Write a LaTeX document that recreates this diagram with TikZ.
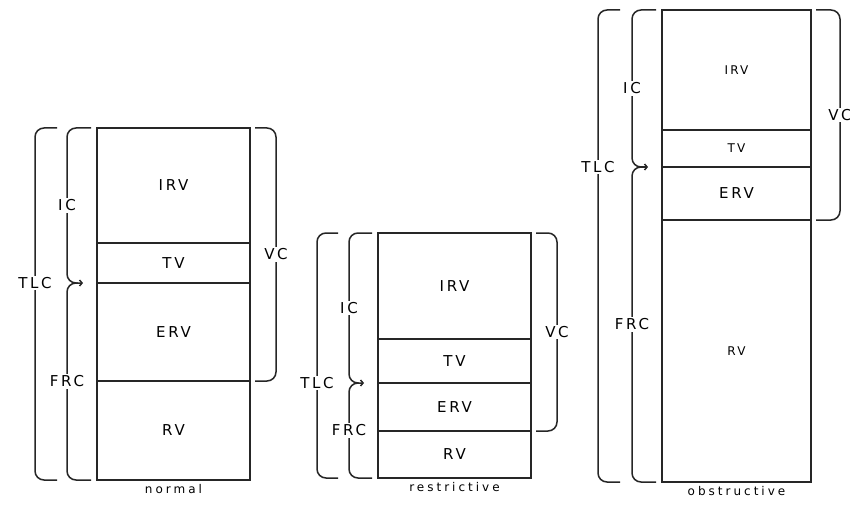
\documentclass[tikz,border=0pt]{standalone}
\usepackage{fontspec}
\usepackage{tikz}
\usetikzlibrary{arrows.meta,positioning,calc}
\newfontfamily\lettering[LetterSpace=18]{DejaVu Sans}
\newfontfamily\capfont[LetterSpace=25]{DejaVu Sans}
\tikzset{
  comp/.style={draw=black!85, line width=1.5pt, outer sep=0pt, inner sep=0pt,
    minimum width=153pt, align=center, font=\lettering\fontsize{15}{17}\selectfont},
  smallcomp/.style={comp, font=\lettering\fontsize{12}{14}\selectfont},
  brk/.style={draw=black!85, line width=1.5pt, rounded corners=9pt},
  tip/.style={brk, -{Straight Barb[length=2.5pt,width=6pt]}},
  blbl/.style={fill=white, inner sep=1.5pt, font=\lettering\fontsize{15}{17}\selectfont},
  ttl/.style={inner sep=1pt, font=\capfont\fontsize{12}{14}\selectfont}
}

\begin{document}
\begin{tikzpicture}[x=1pt, y=-1pt]
  \useasboundingbox (0,0) rectangle (850,505);

  % normal
  \node[comp, minimum height=115pt] (nIRV) at (173.5,185.5) {IRV};
  \node[comp, minimum height=40pt, below=0pt of nIRV] (nTV) {TV};
  \node[comp, minimum height=98pt, below=0pt of nTV] (nERV) {ERV};
  \node[comp, minimum height=99pt, below=0pt of nERV] (nRV) {RV};
  \node[ttl, below=3pt of nRV] (nT) {normal};
  \coordinate (nJ) at ($(nERV.north west)+(-14,0)$);
  \draw[tip] ($(nIRV.north west)+(-6,0)$) -| ($(nERV.north west)+(-30,0)$) -- (nJ);
  \draw[brk] ($(nJ)+(-5,0)$) -| ($(nRV.south west)+(-30,0)$) -- ($(nRV.south west)+(-6,0)$);
  \draw[brk] ($(nIRV.north west)+(-40,0)$) -| ($(nRV.south west)+(-62,0)$) -- ($(nRV.south west)+(-40,0)$);
  \draw[brk] ($(nIRV.north east)+(5,0)$) -| ($(nRV.north east)+(26,0)$) -- ($(nRV.north east)+(5,0)$);
  \node[blbl] (nIC) at ($(nIRV.north west)!.5!(nERV.north west)+(-30,0)$) {IC};
  \node[blbl] (nFRC) at ($(nERV.north west)!.5!(nRV.south west)+(-30,0)$) {FRC};
  \node[blbl] (nTLC) at ($(nERV.north west)+(-62,0)$) {TLC};
  \node[blbl] (nVC) at ($(nIRV.north east)!.5!(nRV.north east)+(26,0)$) {VC};

  % restrictive
  \node[comp, minimum height=106pt] (rIRV) at (454.5,286) {IRV};
  \node[comp, minimum height=44pt, below=0pt of rIRV] (rTV) {TV};
  \node[comp, minimum height=48pt, below=0pt of rTV] (rERV) {ERV};
  \node[comp, minimum height=47pt, below=0pt of rERV] (rRV) {RV};
  \node[ttl, below=3pt of rRV] (rT) {restrictive};
  \coordinate (rJ) at ($(rERV.north west)+(-14,0)$);
  \draw[tip] ($(rIRV.north west)+(-6,0)$) -| ($(rERV.north west)+(-29,0)$) -- (rJ);
  \draw[brk] ($(rJ)+(-5,0)$) -| ($(rRV.south west)+(-29,0)$) -- ($(rRV.south west)+(-6,0)$);
  \draw[brk] ($(rIRV.north west)+(-40,0)$) -| ($(rRV.south west)+(-61,0)$) -- ($(rRV.south west)+(-40,0)$);
  \draw[brk] ($(rIRV.north east)+(5,0)$) -| ($(rRV.north east)+(26,0)$) -- ($(rRV.north east)+(5,0)$);
  \node[blbl] (rIC) at ($(rIRV.north west)!.5!(rERV.north west)+(-29,0)$) {IC};
  \node[blbl] (rFRC) at ($(rERV.north west)!.5!(rRV.south west)+(-29,0)$) {FRC};
  \node[blbl] (rTLC) at ($(rERV.north west)+(-61,0)$) {TLC};
  \node[blbl] (rVC) at ($(rIRV.north east)!.5!(rRV.north east)+(26,0)$) {VC};

  % obstructive
  \node[smallcomp, minimum width=149pt, minimum height=120pt] (oIRV) at (736.5,70) {IRV};
  \node[smallcomp, minimum width=149pt, minimum height=37pt, below=0pt of oIRV] (oTV) {TV};
  \node[comp, minimum width=149pt, minimum height=53pt, below=0pt of oTV] (oERV) {ERV};
  \node[smallcomp, minimum width=149pt, minimum height=262pt, below=0pt of oERV] (oRV) {RV};
  \node[ttl, below=3pt of oRV] (oT) {obstructive};
  \coordinate (oJ) at ($(oTV.south west)+(-14,0)$);
  \draw[tip] ($(oIRV.north west)+(-6,0)$) -| ($(oTV.south west)+(-30,0)$) -- (oJ);
  \draw[brk] ($(oJ)+(-5,0)$) -| ($(oRV.south west)+(-30,0)$) -- ($(oRV.south west)+(-6,0)$);
  \draw[brk] ($(oIRV.north west)+(-42,0)$) -| ($(oRV.south west)+(-64,0)$) -- ($(oRV.south west)+(-42,0)$);
  \draw[brk] ($(oIRV.north east)+(5,0)$) -| ($(oERV.south east)+(29,0)$) -- ($(oERV.south east)+(5,0)$);
  \node[blbl] (oIC) at ($(oIRV.north west)!.5!(oTV.south west)+(-30,0)$) {IC};
  \node[blbl] (oFRC) at ($(oTV.south west)!.5!(oRV.south west)+(-30,0)$) {FRC};
  \node[blbl] (oTLC) at ($(oTV.south west)+(-64,0)$) {TLC};
  \node[blbl] (oVC) at ($(oIRV.north east)!.5!(oERV.south east)+(29,0)$) {VC};
\end{tikzpicture}
\end{document}
